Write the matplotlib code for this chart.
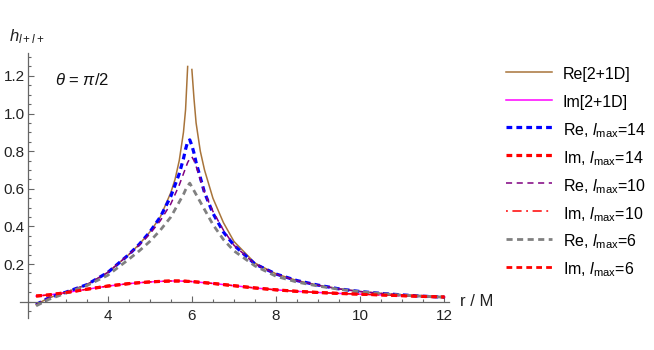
import matplotlib
matplotlib.use("Agg")
import matplotlib.pyplot as plt
import numpy as np

plt.rcParams['font.family'] = ['Liberation Sans', 'DejaVu Sans']
plt.rcParams['mathtext.fontset'] = 'custom'
plt.rcParams['mathtext.rm'] = 'Liberation Sans'
plt.rcParams['mathtext.it'] = 'Liberation Sans:italic'

# r / M grid (NaN marks the gap at the cusp of the 2+1D curve)
r_vals = [2.3, 2.6, 3.0, 3.5, 4.0, 4.5, 4.75, 5.0, 5.25, 5.5, 5.6, 5.7, 5.8, 5.85, 5.9,
          5.95, 6.0, 6.05, 6.1, 6.2, 6.3, 6.5, 6.75, 7.0, 7.5, 8.0, 8.5, 9.0, 9.5,
          10.0, 10.5, 11.0, 11.5, 12.0]

re_2p1 = [-0.015, 0.02, 0.05, 0.09, 0.155, 0.25, 0.305, 0.37, 0.45, 0.58, 0.65, 0.75, 0.9, 1.02, 1.25,
          np.nan, 1.234, 1.08, 0.95, 0.80, 0.70, 0.55, 0.42, 0.32, 0.205, 0.148, 0.112, 0.088, 0.068,
          0.054, 0.044, 0.036, 0.029, 0.024]
re_l14 = [-0.015, 0.02, 0.05, 0.09, 0.155, 0.25, 0.305, 0.37, 0.45, 0.56, 0.62, 0.68, 0.76, 0.81, 0.85,
          0.86, 0.83, 0.79, 0.74, 0.66, 0.58, 0.47, 0.37, 0.30, 0.20, 0.147, 0.112, 0.088, 0.068,
          0.054, 0.044, 0.036, 0.029, 0.024]
re_l10 = [-0.015, 0.02, 0.05, 0.09, 0.155, 0.25, 0.30, 0.36, 0.43, 0.52, 0.57, 0.62, 0.68, 0.71, 0.74,
          0.76, 0.77, 0.75, 0.72, 0.65, 0.58, 0.48, 0.38, 0.30, 0.20, 0.146, 0.111, 0.087, 0.068,
          0.054, 0.044, 0.036, 0.029, 0.024]
re_l6 = [-0.022, 0.012, 0.045, 0.085, 0.14, 0.225, 0.27, 0.32, 0.38, 0.45, 0.49, 0.53, 0.57, 0.595, 0.615,
         0.63, 0.61, 0.59, 0.57, 0.53, 0.49, 0.41, 0.33, 0.27, 0.19, 0.135, 0.104, 0.083, 0.066,
         0.053, 0.043, 0.035, 0.029, 0.024]
im_2p1 = [0.030, 0.036, 0.048, 0.066, 0.083, 0.096, 0.101, 0.105, 0.108, 0.110, 0.110, 0.110, 0.109, 0.109, 0.108,
          0.108, 0.107, 0.106, 0.105, 0.103, 0.101, 0.097, 0.091, 0.085, 0.073, 0.063, 0.055, 0.049, 0.044,
          0.040, 0.036, 0.032, 0.028, 0.025]
im_l14 = im_2p1
im_l10 = im_2p1
im_l6 = im_2p1

fig = plt.figure(figsize=(6.54, 3.5), dpi=100)
ax = fig.add_axes([20.1 / 654, 1 - 317.7 / 350, (448.7 - 20.1) / 654, (317.7 - 53.3) / 350])

ax.plot(r_vals, re_2p1, color='#a8743a', lw=1.1, label='Re[2+1D]')
ax.plot(r_vals, im_2p1, color='#ff00ff', lw=1.1, label='Im[2+1D]')
ax.plot(r_vals, re_l14, color='#0000ff', lw=2.3, ls=(0, (1.8, 1.3)), label=r'Re, $l_{\mathrm{max}}$=14')
ax.plot(r_vals, im_l14, color='#ff0000', lw=2.3, ls=(0, (1.8, 1.3)), label=r'Im, $l_{\mathrm{max}}$=14')
ax.plot(r_vals, re_l10, color='#800080', lw=1.1, ls=(0, (4, 3)), label=r'Re, $l_{\mathrm{max}}$=10')
ax.plot(r_vals, im_l10, color='#ff0000', lw=1.1, ls=(0, (1.2, 3, 6, 3)), label=r'Im, $l_{\mathrm{max}}$=10')
ax.plot(r_vals, re_l6, color='#808080', lw=2.0, ls=(0, (2.2, 1.6)), label=r'Re, $l_{\mathrm{max}}$=6')
ax.plot(r_vals, im_l6, color='#ff0000', lw=2.0, ls=(0, (2.07, 1.5)), label=r'Im, $l_{\mathrm{max}}$=6')

ax.set_xlim(1.92, 12.1)
ax.set_ylim(-0.085, 1.32)

axcol = '#666666'
for s in ['top', 'right']:
    ax.spines[s].set_visible(False)
ax.spines['bottom'].set_position(('data', 0))
ax.spines['left'].set_position(('data', 2.1))
for s in ['bottom', 'left']:
    ax.spines[s].set_color(axcol)
    ax.spines[s].set_linewidth(0.9)

ax.set_xticks([4, 6, 8, 10, 12])
ax.set_xticks(np.arange(2.5, 12.01, 0.5), minor=True)
ax.set_yticks([0.2, 0.4, 0.6, 0.8, 1.0, 1.2])
ax.set_yticklabels(['0.2', '0.4', '0.6', '0.8', '1.0', '1.2'])
ax.set_yticks(np.arange(-0.05, 1.31, 0.05), minor=True)
ax.tick_params(which='both', direction='in', color=axcol, width=0.8, labelsize=11, labelcolor='#222222')
ax.tick_params(which='major', length=4.2)
ax.tick_params(which='minor', length=2.4)
ax.tick_params(axis='x', pad=5)
ax.tick_params(axis='y', pad=2)

fig.text(27 / 654, 1 - 37 / 350, r'$h_{l+l+}$', fontsize=12, ha='center', va='center', color='#222222')
fig.text(460 / 654, 1 - 301.7 / 350, 'r / M', fontsize=12, ha='left', va='center', color='#222222')
ax.text(55 / 654, 1 - 80 / 350, r'$\theta$ = $\pi$/2', fontsize=12, ha='left', va='center',
        transform=fig.transFigure, color='#111111')

leg = ax.legend(loc='upper left', bbox_to_anchor=(506 / 654, 1 - 64 / 350), bbox_transform=fig.transFigure,
                frameon=False, fontsize=11.5, handlelength=2.9, handletextpad=0.65, handleheight=1.6,
                labelspacing=0.46, borderpad=0, borderaxespad=0)

fig.savefig('out.png', dpi=100)
